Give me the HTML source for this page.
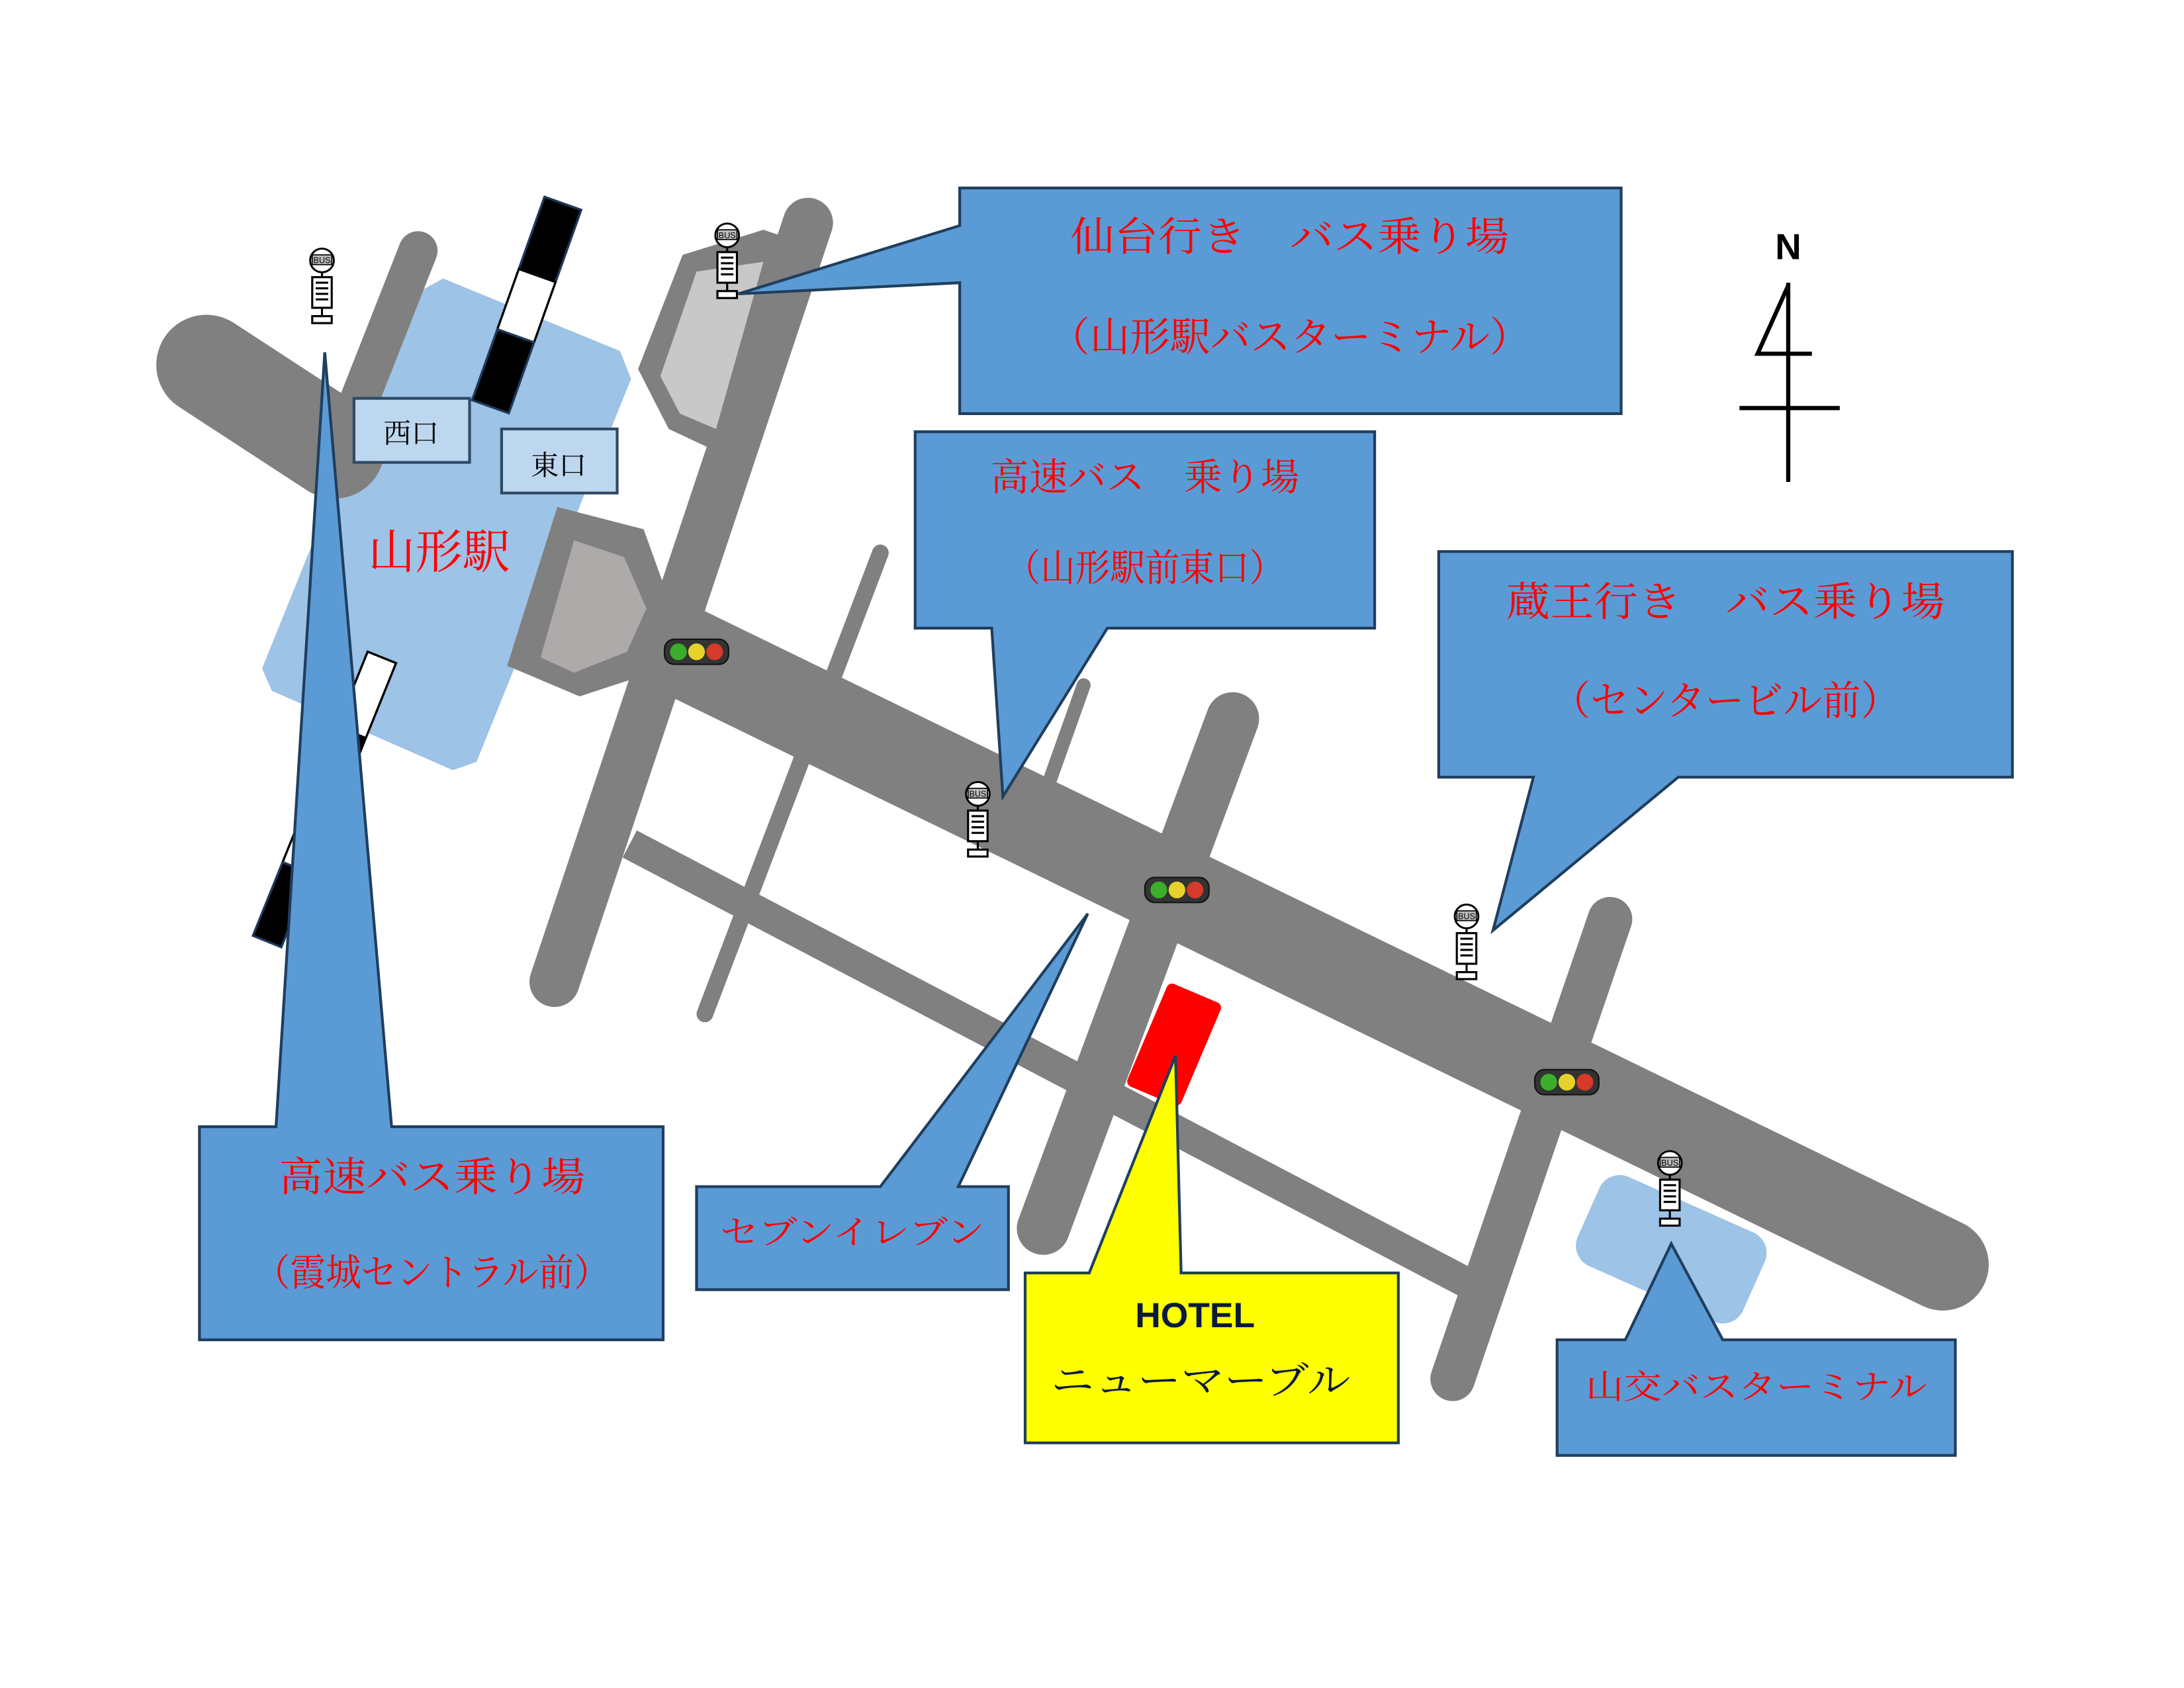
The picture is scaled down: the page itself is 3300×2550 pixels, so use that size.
<!DOCTYPE html>
<html><head><meta charset="utf-8">
<style>
html,body{margin:0;padding:0;background:#fff;}
svg{display:block;}
.r{fill:#ff0000;font-family:"Liberation Serif","Noto Serif CJK SC",serif;text-anchor:middle;}
</style></head>
<body>
<svg width="3300" height="2550" viewBox="0 0 1568 1212" xmlns="http://www.w3.org/2000/svg">
<defs>
<g id="bus">
  <circle cx="0" cy="0" r="8.5" fill="#fff" stroke="#000" stroke-width="1.4"/>
  <rect x="-7" y="-4" width="14" height="7" fill="#bbb" stroke="#000" stroke-width="0.8"/>
  <text x="0" y="2" font-family="Liberation Sans,sans-serif" font-size="6" text-anchor="middle" fill="#000">BUS</text>
  <line x1="0" y1="8.5" x2="0" y2="12" stroke="#000" stroke-width="1.5"/>
  <rect x="-7" y="12" width="14" height="22" fill="#fff" stroke="#000" stroke-width="1.5"/>
  <line x1="-4.5" y1="16" x2="4.5" y2="16" stroke="#000" stroke-width="1.5"/>
  <line x1="-4.5" y1="20" x2="4.5" y2="20" stroke="#000" stroke-width="1.5"/>
  <line x1="-4.5" y1="24" x2="4.5" y2="24" stroke="#000" stroke-width="1.5"/>
  <line x1="-4.5" y1="28" x2="4.5" y2="28" stroke="#000" stroke-width="1.5"/>
  <line x1="0" y1="34" x2="0" y2="40" stroke="#000" stroke-width="1.5"/>
  <rect x="-7" y="40" width="14" height="5" fill="#fff" stroke="#000" stroke-width="1.5"/>
</g>
<g id="tl">
  <rect x="-23" y="-9" width="46" height="18" rx="7" fill="#333" stroke="#111" stroke-width="1"/>
  <circle cx="-13" cy="0" r="6" fill="#3cae2c"/>
  <circle cx="0" cy="0" r="6" fill="#e6d22a"/>
  <circle cx="13" cy="0" r="6" fill="#d63a2a"/>
</g>
</defs>

<!-- station -->
<polygon points="318,200 445,252 453,272 342,547 325,553 195,496 188,480 296,212" fill="#9dc3e6"/>

<!-- roads -->
<g stroke="#808080" stroke-linecap="round" fill="none">
  <line x1="148" y1="262" x2="240" y2="322" stroke-width="72"/>
  <line x1="300" y1="180" x2="237" y2="340" stroke-width="28"/>
  <line x1="580" y1="160" x2="398" y2="705" stroke-width="36"/>
  <line x1="632" y1="397" x2="506" y2="728" stroke-width="12"/>
  <line x1="778" y1="492" x2="752" y2="565" stroke-width="10"/>
  <line x1="885" y1="516" x2="749" y2="882" stroke-width="38"/>
  <line x1="1156" y1="660" x2="1043" y2="990" stroke-width="32"/>
  <line x1="452" y1="606" x2="1055" y2="922" stroke-width="22" stroke-linecap="butt"/>
  <line x1="470" y1="458" x2="1395" y2="908" stroke-width="66"/>
</g>

<!-- gray hexes -->
<polygon points="458,265 490,183 548,165 578,175 512,323 480,308" fill="#808080"/>
<polygon points="474,270 500,195 548,188 514,308 488,297" fill="#c8c8c8"/>
<polygon points="364,478 400,364 462,380 480,430 462,485 416,500" fill="#808080"/>
<polygon points="388,472 412,388 448,400 464,437 450,468 412,483" fill="#aeaaaa"/>

<!-- rails top -->
<g transform="translate(404,146) rotate(109.6)" stroke="#1f3a5a" stroke-width="1.6">
  <rect x="0" y="-14" width="55" height="28" fill="#000"/>
  <rect x="55" y="-14" width="46" height="28" fill="#fff" stroke="#000"/>
  <rect x="101" y="-14" width="54" height="28" fill="#000"/>
</g>
<!-- rails bottom -->
<g transform="translate(274,472) rotate(112)" stroke="#000" stroke-width="1.6">
  <rect x="0" y="-11" width="58" height="22" fill="#fff"/>
  <rect x="58" y="-11" width="10" height="22" fill="#000"/>
  <rect x="68" y="-11" width="95" height="22" fill="#fff"/>
  <rect x="163" y="-11" width="57" height="22" fill="#000" stroke="#1f3a5a"/>
</g>

<!-- exits -->
<rect x="254" y="286" width="83" height="46" fill="#bdd7ee" stroke="#2e4a66" stroke-width="2"/>
<text x="295" y="318" font-size="20" text-anchor="middle" font-family="Liberation Serif,Noto Serif CJK JP,serif">西口</text>
<rect x="360" y="308" width="83" height="46" fill="#bdd7ee" stroke="#2e4a66" stroke-width="2"/>
<text x="401" y="341" font-size="20" text-anchor="middle" font-family="Liberation Serif,Noto Serif CJK JP,serif">東口</text>
<text class="r" x="315" y="408" font-size="34">山形駅</text>

<!-- light blue terminal -->
<g transform="translate(1200,897) rotate(24)">
  <rect x="-65" y="-35" width="130" height="70" rx="16" fill="#9dc3e6"/>
</g>

<!-- hotel building -->
<g transform="translate(843,750) rotate(23)">
  <rect x="-21" y="-40" width="42" height="80" rx="4" fill="#ff0000"/>
</g>

<!-- traffic lights -->
<use href="#tl" x="500" y="468"/>
<use href="#tl" x="845" y="639"/>
<use href="#tl" x="1125" y="777"/>

<!-- bus stops -->
<use href="#bus" x="231" y="187"/>
<use href="#bus" x="522" y="169"/>
<use href="#bus" x="702" y="570"/>
<use href="#bus" x="1053" y="658"/>
<use href="#bus" x="1199" y="835"/>

<!-- callouts -->
<g stroke="#203e5e" stroke-width="2" fill="#5b9bd5">
  <polygon points="689,135 1164,135 1164,297 689,297 689,203 530,211 689,162"/>
  <polygon points="657,310 987,310 987,451 795,451 720,572 712,451 657,451"/>
  <polygon points="1033,396 1445,396 1445,558 1205,558 1072,668 1101,558 1033,558"/>
  <polygon points="143,809 198,809 233,253 281,809 476,809 476,962 143,962"/>
  <polygon points="500,852 632,852 781,656 688,852 724,852 724,926 500,926"/>
  <polygon points="1118,962 1167,962 1200,893 1237,962 1404,962 1404,1045 1118,1045"/>
  <polygon points="736,914 782,914 844,758 848,914 1004,914 1004,1036 736,1036" fill="#ffff00"/>
</g>

<text class="r" x="926" y="180" font-size="29" textLength="315" lengthAdjust="spacingAndGlyphs">仙台行き　バス乗り場</text>
<text class="r" x="926" y="252" font-size="29" textLength="345" lengthAdjust="spacingAndGlyphs">（山形駅バスターミナル）</text>
<text class="r" x="822" y="352" font-size="27" textLength="222" lengthAdjust="spacingAndGlyphs">高速バス　乗り場</text>
<text class="r" x="822" y="417" font-size="27" textLength="200" lengthAdjust="spacingAndGlyphs">（山形駅前東口）</text>
<text class="r" x="1239" y="442" font-size="29" textLength="315" lengthAdjust="spacingAndGlyphs">蔵王行き　バス乗り場</text>
<text class="r" x="1239" y="513" font-size="29" textLength="250" lengthAdjust="spacingAndGlyphs">（センタービル前）</text>
<text class="r" x="310" y="855" font-size="29" textLength="220" lengthAdjust="spacingAndGlyphs">高速バス乗り場</text>
<text class="r" x="310" y="923" font-size="27" textLength="255" lengthAdjust="spacingAndGlyphs">（霞城セントラル前）</text>
<text class="r" x="612" y="893" font-size="24" textLength="190" lengthAdjust="spacingAndGlyphs">セブンイレブン</text>
<text class="r" x="1261" y="1004" font-size="24" textLength="245" lengthAdjust="spacingAndGlyphs">山交バスターミナル</text>
<text x="858" y="953" font-size="25" font-weight="bold" fill="#0b1a3c" text-anchor="middle" font-family="Liberation Sans,sans-serif" textLength="86" lengthAdjust="spacingAndGlyphs">HOTEL</text>
<text x="862" y="1001" font-size="28" fill="#0b1a3c" text-anchor="middle" font-family="Liberation Serif,Noto Serif CJK JP,serif" textLength="215" lengthAdjust="spacingAndGlyphs">ニューマーブル</text>

<!-- north -->
<text x="1284" y="186" font-size="26" font-weight="bold" text-anchor="middle" font-family="Liberation Sans,sans-serif">N</text>
<g stroke="#000" stroke-width="3" fill="none">
  <line x1="1284" y1="203" x2="1284" y2="346"/>
  <line x1="1249" y1="293" x2="1321" y2="293"/>
  <polyline points="1284,205 1262,254 1301,254"/>
</g>
</svg>
</body></html>
